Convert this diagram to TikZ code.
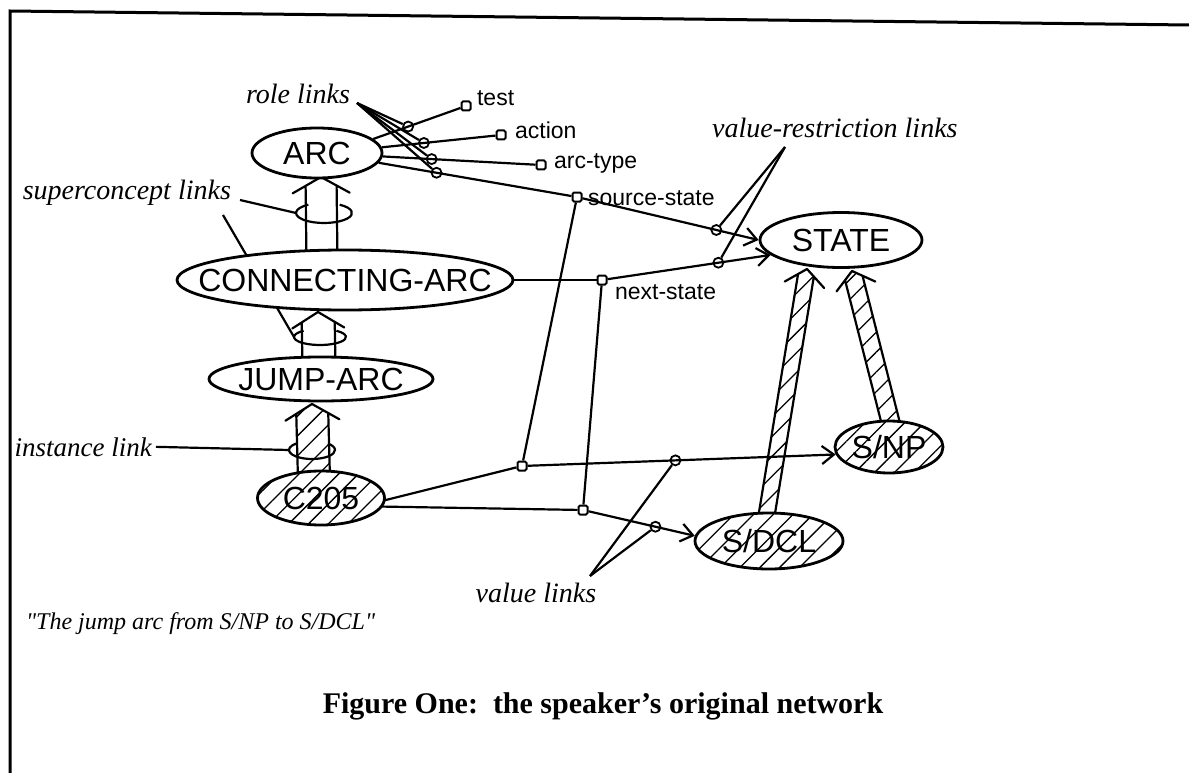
\documentclass[tikz,border=0pt]{standalone}
\usepackage{fontspec}
\setmainfont{Liberation Serif}
\setsansfont{Liberation Sans}
\newfontfamily\quotefont{Liberation Serif}
\usetikzlibrary{shapes.geometric,arrows.meta,calc,patterns.meta,backgrounds}

\tikzset{every picture/.style={line width=2.2pt}}
\tikzset{
  concept/.style={ellipse, draw, line width=2.8pt, fill=white, inner sep=0pt,
    font=\sffamily\fontsize{32}{32}\selectfont},
  hatchfill/.style={preaction={fill=white}, pattern={Lines[angle=45,distance=14pt,line width=1.3pt]}},
  rolebox/.style={rectangle, draw, line width=2pt, fill=white, minimum size=9pt, inner sep=0pt, rounded corners=1.5pt},
  ringmark/.style={circle, draw, line width=1.8pt, minimum size=10pt, inner sep=0pt},
  rolename/.style={anchor=west, inner sep=0pt, font=\sffamily\fontsize{23}{23}\selectfont},
  linklabel/.style={inner sep=0pt, font=\itshape\fontsize{28}{28}\selectfont},
  valarrow/.style={-{Straight Barb[length=12pt,width=18pt]}},
  linkline/.style={line width=2.2pt, line join=round},
}
\newcommand\ctext[1]{\makebox[0pt]{#1}}
% hollow link arrow: [fill] {tail} {tip} {half shaft} {half head}
\newcommand\fatarrow[5][fill=white]{%
  \coordinate (fa-k) at ($(#3)!16pt!(#2)$);
  \coordinate (fa-m) at ($(#3)!16pt*#4/#5!(#2)$);
  \coordinate (fa-tl) at ($(#2)!#4pt!90:(#3)$);
  \coordinate (fa-tr) at ($(#2)!#4pt!-90:(#3)$);
  \coordinate (fa-sl) at ($(fa-m)!#4pt!-90:(#2)$);
  \coordinate (fa-sr) at ($(fa-m)!#4pt!90:(#2)$);
  \coordinate (fa-al) at ($(fa-k)!#5pt!-90:(#2)$);
  \coordinate (fa-ar) at ($(fa-k)!#5pt!90:(#2)$);
  \fill[#1] (fa-tl) -- (fa-sl) -- (fa-al) -- (#3) -- (fa-ar) -- (fa-sr) -- (fa-tr) -- cycle;
  \draw[linkline] (fa-tl) -- (fa-sl) -- (fa-al) -- (#3) -- (fa-ar) -- (fa-sr) -- (fa-tr);
}

\begin{document}
\begin{tikzpicture}[x=1pt,y=1pt,yscale=-1,xscale=1]
  \useasboundingbox (0,0) rectangle (1189,773);
  %Frame
  \draw[line width=3pt] (1189,25) -- (10,11) -- (10,773);

  %Concepts
  \node[concept, minimum width=130pt, minimum height=50pt] (arc) at (317,153) {\ctext{ARC}};
  \node[concept, minimum width=336pt, minimum height=60pt] (carc) at (345,280) {\ctext{CONNECTING-ARC}};
  \node[concept, minimum width=224pt, minimum height=44pt] (jump) at (321,379) {\ctext{JUMP-ARC}};
  \node[concept, hatchfill, minimum width=127pt, minimum height=54pt] (c205) at (321,498) {\ctext{C205}};
  \node[concept, minimum width=162pt, minimum height=55pt] (state) at (841,240) {\ctext{STATE}};
  \node[concept, hatchfill, minimum width=108pt, minimum height=52pt] (snp) at (889,447) {\ctext{S/NP}};
  \node[concept, hatchfill, minimum width=148pt, minimum height=56pt] (sdcl) at (769,541) {\ctext{S/DCL}};

  %Roles
  \node[rolebox] (sqtest) at (466,106) {};
  \node[rolebox] (sqaction) at (501,135) {};
  \node[rolebox] (sqarctype) at (541,165) {};
  \node[rolebox] (sqsource) at (577,197) {};
  \node[rolebox] (sqnext) at (602,280) {};
  \node[rolebox] (sqval1) at (522,466) {};
  \node[rolebox] (sqval2) at (583,510) {};

  \node[rolename] (ltest) at (476,98) {test};
  \node[rolename] (laction) at (514,130) {action};
  \node[rolename] (larctype) at (553,163) {arc-type};
  \node[rolename] (lsource) at (587,198) {source-state};
  \node[rolename] (lnext) at (614,292) {next-state};

  %Role links
  \draw (arc.14) -- node[ringmark,pos=0.40] (rc1) {} (sqtest);
  \draw (arc.5) -- node[ringmark,pos=0.37] (rc2) {} (sqaction);
  \draw (arc.-3) -- node[ringmark,pos=0.32] (rc3) {} (sqarctype);
  \draw (arc.-9) -- node[ringmark,pos=0.30] (rc4) {} (sqsource);
  \draw (carc.east) -- (sqnext);

  %Value restrictions
  \draw[valarrow] (sqsource) -- node[ringmark,pos=0.76] (vr1) {} (state.west);
  \draw[valarrow] (sqnext) -- node[ringmark,pos=0.68] (vr2) {} (state.192);

  %Values
  \draw (c205.-2) -- (sqval1);
  \draw (c205.-8) -- (sqval2);
  \draw (sqsource) -- (sqval1);
  \draw (sqnext) -- (sqval2);
  \draw[valarrow] (sqval1) -- node[ringmark,pos=0.48] (vc1) {} (snp.188);
  \draw[valarrow] (sqval2) -- node[ringmark,pos=0.63] (vc2) {} (sdcl.176);

  %Labels
  \node[linklabel, anchor=base] (lrole) at (298,104) {role links};
  \node[linklabel, anchor=base east] (lsuper) at (232,199) {superconcept links};
  \node[linklabel, anchor=base east, font=\itshape\fontsize{27}{27}\selectfont] (linst) at (153,456) {instance link};
  \node[linklabel, anchor=base west] (lvr) at (711,138) {value-restriction links};
  \node[linklabel, anchor=base] (lval) at (536,602) {value links};
  \node[anchor=base west, inner sep=0pt, font=\quotefont\itshape\fontsize{24}{24}\selectfont] (quote) at (25,629) {"The jump arc from S/NP to S/DCL"};
  \node[anchor=base, inner sep=0pt, font=\bfseries\fontsize{30}{30}\selectfont] (caption) at (603,713) {Figure One:\ \ the speaker's original network};

  %Pointers
  \coordinate (prole) at (357,103);
  \foreach \m in {rc1,rc2,rc3,rc4} \draw (prole) -- (\m);
  \coordinate (pvr) at (785,147);
  \draw (pvr) -- (vr1);
  \draw (pvr) -- (vr2);
  \coordinate (pval) at (590,576);
  \draw (pval) -- (vc1);
  \draw (pval) -- (vc2);

  %Superconcept and instance arrows
  \begin{scope}[on background layer]
    \coordinate (sup1t) at (322,262); \coordinate (sup1h) at (321,177);
    \fatarrow{sup1t}{sup1h}{15.5}{28.5}
    \coordinate (sup2t) at (319,365); \coordinate (sup2h) at (318,312);
    \fatarrow{sup2t}{sup2h}{16.5}{26}
    \coordinate (inst1t) at (314,480); \coordinate (inst1h) at (312,404);
    \fatarrow[hatchfill]{inst1t}{inst1h}{16}{27}
    \coordinate (sup3t) at (765,525); \coordinate (sup3h) at (807,269);
    \fatarrow[hatchfill]{sup3t}{sup3h}{8}{20}
    \coordinate (sup4t) at (893,432); \coordinate (sup4h) at (852,271);
    \fatarrow[hatchfill]{sup4t}{sup4h}{9}{20}

    %Rings
    \coordinate (ring1c) at (324,213);
    \draw[linkline] (ring1c) ++(-56:28 and 10) arc[start angle=-56,end angle=236,x radius=28,y radius=10];
    \coordinate (ring1w) at ($(ring1c)+(-28,0)$);
    \coordinate (ring2c) at (320,337);
    \draw[linkline] (ring2c) ++(-51:26 and 8) arc[start angle=-51,end angle=231,x radius=26,y radius=8];
    \coordinate (ring2w) at ($(ring2c)+(-26,0)$);
    \coordinate (ring3c) at (312,450);
    \draw[linkline] (ring3c) ++(-46:23 and 9) arc[start angle=-46,end angle=226,x radius=23,y radius=9];
    \coordinate (ring3w) at ($(ring3c)+(-23,0)$);

    \coordinate (psup1) at (240,200);
    \coordinate (psup2) at (223,215);
    \draw[linkline] (psup1) -- (ring1w);
    \draw[linkline] (psup2) -- (ring2w);
    \draw[linkline, shorten <=3pt] (linst.east) -- (ring3w);
  \end{scope}
\end{tikzpicture}
\end{document}
